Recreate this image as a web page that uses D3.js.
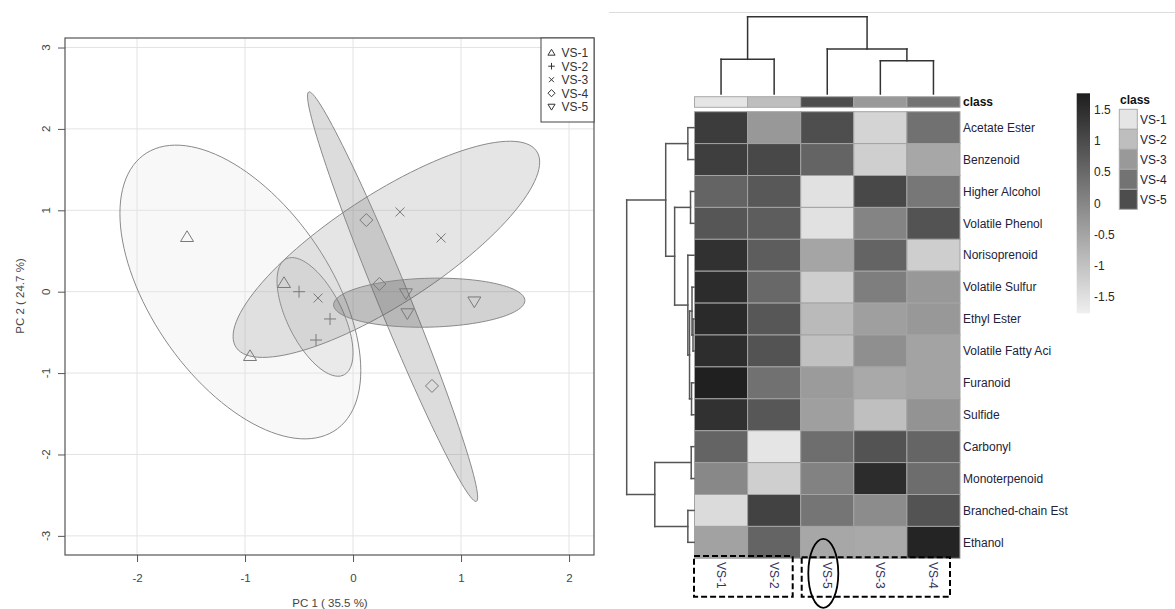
<!DOCTYPE html>
<html>
<head>
<meta charset="utf-8">
<script src="https://cdn.jsdelivr.net/npm/d3@7"></script>
<style>
  body { margin: 0; background: #fff; }
  svg { font-family: "Liberation Sans", Arial, sans-serif; }
</style>
</head>
<body>
<script>
// PCA scores (3 replicates per group)
var groups = ["VS-1", "VS-2", "VS-3", "VS-4", "VS-5"];
var pc1Scores = [
  [-1.537, -0.639, -0.954],
  [-0.50, -0.213, -0.343],
  [-0.324, 0.435, 0.815],
  [0.123, 0.244, 0.731],
  [0.49, 0.503, 1.123]
];
var pc2Scores = [
  [0.672, 0.107, -0.79],
  [0.0, -0.335, -0.594],
  [-0.078, 0.98, 0.66],
  [0.88, 0.095, -1.158],
  [-0.02, -0.265, -0.12]
];
var pcTicksX = [-2, -1, 0, 1, 2];
var pcTicksY = [-3, -2, -1, 0, 1, 2, 3];

// Heatmap
var rowNames = ["Acetate Ester", "Benzenoid", "Higher Alcohol", "Volatile Phenol", "Norisoprenoid",
  "Volatile Sulfur", "Ethyl Ester", "Volatile Fatty Aci", "Furanoid", "Sulfide", "Carbonyl",
  "Monoterpenoid", "Branched-chain Est", "Ethanol"];
var colOrder = ["VS-1", "VS-2", "VS-5", "VS-3", "VS-4"];
var zValues = [
  [1.26, -0.29, 0.95, -1.31, 0.36],
  [1.23, 1.06, 0.58, -1.23, -0.55],
  [0.58, 0.78, -1.53, 1.06, 0.27],
  [0.82, 0.71, -1.53, 0.05, 0.87],
  [1.45, 0.71, -0.51, 0.58, -1.21],
  [1.53, 0.51, -1.21, 0.14, -0.29],
  [1.57, 0.80, -0.87, -0.41, -0.29],
  [1.51, 0.87, -0.99, -0.14, -0.49],
  [1.74, 0.37, -0.34, -0.58, -0.49],
  [1.45, 0.80, -0.41, -0.95, -0.22],
  [0.58, -1.60, 0.41, 0.87, 0.56],
  [-0.03, -1.23, 0.07, 1.53, 0.44],
  [-1.43, 1.16, 0.29, -0.10, 0.87],
  [-0.46, 0.58, -0.55, -0.58, 1.67]
];
var colorTicks = [-1.5, -1, -0.5, 0, 0.5, 1, 1.5];
var classColors = ["#e5e5e5", "#bebebe", "#999999", "#737373", "#4d4d4d"];

// dendrograms: leaves are positions, h = merge height
var colTree = { h: 77.3, c: [{ h: 34.7, c: [0, 1] }, { h: 45, c: [2, { h: 33.3, c: [3, 4] }] }] };
var rowTree = { h: 6.78, c: [
  { h: 2.85, c: [
    { h: 0.62, c: [0, 1] },
    { h: 1.95, c: [
      { h: 0.35, c: [2, 3] },
      { h: 0.62, c: [4, { h: 0.45, c: [{ h: 0.2, c: [5, { h: 0.1, c: [6, 7] }] }, { h: 0.25, c: [8, 9] }] }] }
    ] }
  ] },
  { h: 3.95, c: [{ h: 0.28, c: [10, 11] }, { h: 0.62, c: [12, 13] }] }
] };

var svg = d3.select("body").append("svg").attr("width", 1175).attr("height", 609);

// ---------------- PCA score plot ----------------
var x = d3.scaleLinear().domain([-2.667, 2.231]).range([65, 594]);
var y = d3.scaleLinear().domain([-3.235, 3.117]).range([555, 38]);
var pca = svg.append("g");

pca.selectAll(".gx").data(pcTicksX).enter().append("line")
  .attr("x1", d => x(d)).attr("x2", d => x(d)).attr("y1", 38).attr("y2", 555)
  .attr("stroke", "#e3e3e3");
pca.selectAll(".gy").data(pcTicksY).enter().append("line")
  .attr("y1", d => y(d)).attr("y2", d => y(d)).attr("x1", 65).attr("x2", 594)
  .attr("stroke", "#e3e3e3");

// ellipses (95% from the group covariance)
function ellipsePts(xs, ys) {
  var n = xs.length, mx = d3.mean(xs), my = d3.mean(ys);
  var sxx = d3.variance(xs), syy = d3.variance(ys);
  var sxy = d3.sum(xs, (v, i) => (v - mx) * (ys[i] - my)) / (n - 1);
  var k = Math.sqrt(5.991);
  var a = Math.sqrt(sxx), b = sxy / a, c = Math.sqrt(Math.max(syy - b * b, 0));
  return d3.range(0, 120).map(function (i) {
    var t = 2 * Math.PI * i / 120;
    return [mx + k * a * Math.cos(t), my + k * (b * Math.cos(t) + c * Math.sin(t))];
  });
}
var ell = d3.line().x(d => x(d[0])).y(d => y(d[1])).curve(d3.curveLinearClosed);
groups.forEach(function (g, i) {
  pca.append("path")
    .attr("d", ell(ellipsePts(pc1Scores[i], pc2Scores[i])))
    .attr("fill", classColors[i]).attr("fill-opacity", 0.25)
    .attr("stroke", "#8a8a8a").attr("stroke-width", 1);
});

function symPath(i, s) {
  switch (i) {
    case 0: return "M0," + (-6.2 * s) + "L" + (6.5 * s) + "," + (4.5 * s) + "L" + (-6.5 * s) + "," + (4.5 * s) + "Z";
    case 1: return "M" + (-6 * s) + ",0H" + (6 * s) + "M0," + (-6 * s) + "V" + (6 * s);
    case 2: return "M" + (-4.5 * s) + "," + (-4.5 * s) + "L" + (4.5 * s) + "," + (4.5 * s) + "M" + (-4.5 * s) + "," + (4.5 * s) + "L" + (4.5 * s) + "," + (-4.5 * s);
    case 3: return "M0," + (-6.5 * s) + "L" + (6.5 * s) + ",0L0," + (6.5 * s) + "L" + (-6.5 * s) + ",0Z";
    default: return "M0," + (6.2 * s) + "L" + (6.5 * s) + "," + (-4.5 * s) + "L" + (-6.5 * s) + "," + (-4.5 * s) + "Z";
  }
}
groups.forEach(function (g, i) {
  pc1Scores[i].forEach(function (v, j) {
    pca.append("path")
      .attr("transform", "translate(" + x(v) + "," + y(pc2Scores[i][j]) + ")")
      .attr("d", symPath(i, 1)).attr("fill", "none")
      .attr("stroke", "#7a7a7a").attr("stroke-width", 1);
  });
});

// axes
var xAxis = pca.append("g").attr("transform", "translate(0,555)")
  .call(d3.axisBottom(x).tickValues(pcTicksX).tickSize(7).tickPadding(12).tickFormat(d => String(d)));
xAxis.select(".domain").remove();
xAxis.selectAll("line").attr("stroke", "#555");
xAxis.selectAll("text").attr("fill", "#444").style("font-size", "11.5px").style("font-family", "Liberation Sans, Arial, sans-serif");

var yAxis = pca.append("g").attr("transform", "translate(65,0)")
  .call(d3.axisLeft(y).tickValues(pcTicksY).tickSize(7).tickFormat(""));
yAxis.select(".domain").remove();
yAxis.selectAll("line").attr("stroke", "#555");
pca.selectAll(".ylab").data(pcTicksY).enter().append("text")
  .attr("transform", d => "translate(50," + y(d) + ") rotate(-90)")
  .attr("text-anchor", "middle").attr("fill", "#444").style("font-size", "11.5px")
  .text(d => String(d));

pca.append("rect").attr("x", 65).attr("y", 38).attr("width", 529).attr("height", 517)
  .attr("fill", "none").attr("stroke", "#555").attr("stroke-width", 1.2);

pca.append("text").attr("x", 330).attr("y", 607).attr("text-anchor", "middle")
  .attr("fill", "#444").style("font-size", "11.5px").text("PC 1 ( 35.5 %)");
pca.append("text").attr("transform", "translate(24,296) rotate(-90)").attr("text-anchor", "middle")
  .attr("fill", "#444").style("font-size", "11.5px").text("PC 2 ( 24.7 %)");

// legend
var leg = pca.append("g");
leg.append("rect").attr("x", 541).attr("y", 38).attr("width", 53).attr("height", 84)
  .attr("fill", "#fff").attr("stroke", "#444");
groups.forEach(function (g, i) {
  var ly = 52.7 + i * 13.5;
  leg.append("path").attr("transform", "translate(551.5," + ly + ")")
    .attr("d", symPath(i, 0.55)).attr("fill", "none").attr("stroke", "#333").attr("stroke-width", 1);
  leg.append("text").attr("x", 561.5).attr("y", ly).attr("dy", "0.36em")
    .attr("fill", "#333").style("font-size", "12px").text(g);
});

// ---------------- Heatmap ----------------
svg.append("line").attr("x1", 609).attr("x2", 1175).attr("y1", 12.5).attr("y2", 12.5)
  .attr("stroke", "#dcdcdc");

var hx = d3.scaleBand().domain(colOrder).range([694.5, 960]);
var hy = d3.scaleBand().domain(rowNames).range([111.7, 558.3]);
var z = d3.scaleLinear().domain([-1.77, 1.77]).range(["#efefef", "#1e1e1e"]);
var hm = svg.append("g");

// class bar
hm.selectAll(".cls").data(colOrder).enter().append("rect")
  .attr("x", d => hx(d)).attr("y", 96.7).attr("width", hx.bandwidth()).attr("height", 10.6)
  .attr("fill", d => classColors[groups.indexOf(d)]).attr("stroke", "#a8a8a8");
hm.append("text").attr("x", 963).attr("y", 106).attr("fill", "#111")
  .style("font-size", "12px").style("font-weight", "bold").text("class");

// cells
rowNames.forEach(function (r, i) {
  hm.selectAll(".r" + i).data(zValues[i]).enter().append("rect")
    .attr("x", (d, j) => hx(colOrder[j])).attr("y", hy(r))
    .attr("width", hx.bandwidth()).attr("height", hy.bandwidth())
    .attr("fill", d => z(d)).attr("stroke", "#a3a3a3").attr("stroke-width", 1);
});
hm.selectAll(".rl").data(rowNames).enter().append("text")
  .attr("x", 963).attr("y", d => hy(d) + hy.bandwidth() / 2).attr("dy", "0.35em")
  .attr("fill", "#22223a").style("font-size", "12px").text(d => d);

hm.selectAll(".cl").data(colOrder).enter().append("text")
  .attr("transform", d => "translate(" + (hx(d) + hx.bandwidth() / 2) + ",562) rotate(90)")
  .attr("dy", "0.35em").attr("fill", "#33335a").style("font-size", "12px").text(d => d);

// dendrograms
function tree(g, root, leafPos, hScale, vertical) {
  function seg(p1, h1, p2, h2) {
    var a = vertical ? [p1, hScale(h1), p2, hScale(h2)] : [hScale(h1), p1, hScale(h2), p2];
    g.append("line").attr("x1", a[0]).attr("y1", a[1]).attr("x2", a[2]).attr("y2", a[3]);
  }
  function walk(n) {
    if (typeof n === "number") return { p: leafPos(n), h: 0 };
    var kids = n.c.map(walk);
    kids.forEach(k => seg(k.p, k.h, k.p, n.h));
    seg(kids[0].p, n.h, kids[1].p, n.h);
    return { p: (kids[0].p + kids[1].p) / 2, h: n.h };
  }
  walk(root);
}
var colDendro = hm.append("g").attr("stroke", "#333").attr("stroke-width", 1.5).attr("stroke-linecap", "square");
tree(colDendro, colTree, i => hx(colOrder[i]) + hx.bandwidth() / 2,
  d3.scaleLinear().domain([0, 77.3]).range([94, 16.7]), true);
var rowDendro = hm.append("g").attr("stroke", "#555").attr("stroke-width", 1.5).attr("stroke-linecap", "square");
tree(rowDendro, rowTree, i => hy(rowNames[i]) + hy.bandwidth() / 2,
  d3.scaleLinear().domain([0, 6.78]).range([694, 626.7]), false);

// colour key
var cbY = d3.scaleLinear().domain([-1.77, 1.77]).range([313.3, 93.3]);
var grad = svg.append("defs").append("linearGradient").attr("id", "key")
  .attr("x1", 0).attr("y1", 1).attr("x2", 0).attr("y2", 0);
grad.append("stop").attr("offset", 0).attr("stop-color", z(-1.77));
grad.append("stop").attr("offset", 1).attr("stop-color", z(1.77));
hm.append("rect").attr("x", 1076.7).attr("y", cbY(1.77)).attr("width", 13.3)
  .attr("height", cbY(-1.77) - cbY(1.77)).attr("fill", "url(#key)");
hm.selectAll(".kt").data(colorTicks).enter().append("text")
  .attr("x", 1094).attr("y", d => cbY(d)).attr("dy", "0.35em")
  .attr("fill", "#332222").style("font-size", "12px").text(d => String(d));

// class legend
hm.append("text").attr("x", 1120).attr("y", 104).attr("fill", "#111")
  .style("font-size", "12px").style("font-weight", "bold").text("class");
groups.forEach(function (g, i) {
  hm.append("rect").attr("x", 1119.3).attr("y", 109.3 + i * 20).attr("width", 18).attr("height", 20)
    .attr("fill", classColors[i]).attr("stroke", "#aaa");
  hm.append("text").attr("x", 1140).attr("y", 119.3 + i * 20).attr("dy", "0.35em")
    .attr("fill", "#22223a").style("font-size", "12px").text(g);
});

// annotations
var ann = svg.append("g").attr("fill", "none").attr("stroke", "#000");
ann.append("rect").attr("x", 694).attr("y", 556).attr("width", 98.7).attr("height", 40.7)
  .attr("stroke-width", 2).attr("stroke-dasharray", "6,3");
ann.append("rect").attr("x", 801.7).attr("y", 557.3).attr("width", 148.3).attr("height", 39.4)
  .attr("stroke-width", 2).attr("stroke-dasharray", "6,3");
ann.append("ellipse").attr("cx", 823.3).attr("cy", 573.3).attr("rx", 15).attr("ry", 34.5)
  .attr("stroke-width", 1.8);
</script>
</body>
</html>
